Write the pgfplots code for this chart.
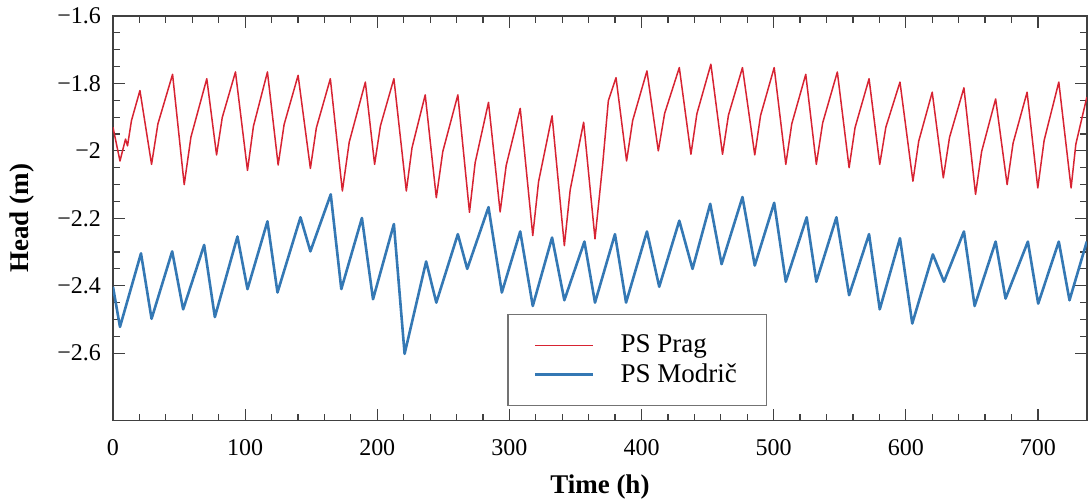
\documentclass[border=0pt]{standalone}
\usepackage{fontspec}
\setmainfont{Liberation Serif}
\usepackage{pgfplots}
\pgfplotsset{compat=1.18}
\definecolor{prag}{RGB}{215,35,50}
\definecolor{modric}{RGB}{52,120,180}

\begin{document}
\begin{tikzpicture}
\begin{axis}[
  name=ax,
  scale only axis, width=487pt, height=202.35pt,
  xmin=0, xmax=737, ymin=-2.8, ymax=-1.6,
  xtick={0,100,...,700},
  ytick={-2.6,-2.4,-2.2,-2,-1.8,-1.6},
  yticklabels={\textminus2.6,\textminus2.4,\textminus2.2,\textminus2,\textminus1.8,\textminus1.6},
  minor x tick num=4, minor y tick num=3,
  tick align=inside,
  major tick length=6pt, minor tick length=3.5pt,
  axis line style={black!75, line width=0.8pt},
  every tick/.style={black!75, line width=0.6pt},
  tick label style={font=\fontsize{12}{14}\selectfont},
  xticklabel style={yshift=-6pt},
  yticklabel style={xshift=-2.5pt},
  /pgf/number format/assume math mode=true,
  xlabel={\textbf{Time (h)}}, ylabel={\textbf{Head (m)}},
  every axis x label/.style={at={(axis description cs:0.5,-0.165)}, anchor=center,
    font=\fontsize{13.5}{16}\selectfont},
  every axis y label/.style={at={(axis description cs:-0.0934,0.5)}, rotate=90, anchor=center,
    font=\fontsize{13.5}{16}\selectfont},
  legend style={at={(axis description cs:0.405,0.036)}, anchor=south west,
    draw=black!55, line width=0.6pt, inner xsep=13pt, inner ysep=8pt,
    column sep=11pt, nodes={inner sep=2pt},
    font=\fontsize{13.5}{16}\selectfont},
  legend cell align=left,
  legend image code/.code={\draw[#1] (0pt,0pt) -- (29pt,0pt);},
]
% PS Prag
\addplot[prag, line width=0.75pt, line join=round] coordinates {
(0,-1.93) (5.3,-2.03) (9.5,-1.965) (11,-1.985) (14,-1.91) (20.4,-1.821)
(29.2,-2.04) (34.0,-1.92) (45.1,-1.773)
(53.9,-2.10) (59.0,-1.959) (71.0,-1.786)
(78.4,-2.012) (82.7,-1.901) (92.7,-1.766)
(101.8,-2.058) (106.3,-1.927) (116.9,-1.766)
(125.0,-2.042) (129.5,-1.922) (140.1,-1.776)
(149.4,-2.052) (153.9,-1.932) (164.5,-1.786)
(173.6,-2.119) (178.8,-1.974) (191.0,-1.796)
(198.0,-2.04) (202.4,-1.926) (212.6,-1.786)
(222.0,-2.119) (226.3,-1.991) (236.3,-1.834)
(244.7,-2.139) (249.6,-2.002) (261.0,-1.834)
(269.8,-2.182) (274.1,-2.035) (284.2,-1.856)
(293.0,-2.181) (297.6,-2.043) (308.2,-1.874)
(317.7,-2.251) (322.1,-2.091) (332.3,-1.896)
(341.6,-2.281) (346.0,-2.116) (356.2,-1.915)
(364.8,-2.261) (370.6,-2.04) (374.9,-1.851) (380.7,-1.783)
(388.7,-2.03) (393.3,-1.91) (404.1,-1.763)
(412.7,-2.0) (417.5,-1.889) (428.6,-1.753)
(437.4,-2.01) (441.9,-1.89) (452.5,-1.743)
(461.3,-2.01) (465.8,-1.894) (476.4,-1.753)
(485.7,-2.012) (490.1,-1.895) (500.4,-1.753)
(509.2,-2.04) (513.7,-1.92) (524.3,-1.773)
(532.3,-2.04) (537.1,-1.917) (548.2,-1.766)
(557.1,-2.05) (561.6,-1.931) (572.2,-1.786)
(580.3,-2.04) (584.9,-1.93) (595.6,-1.796)
(605.4,-2.09) (609.8,-1.971) (620.0,-1.826)
(628.4,-2.08) (633.1,-1.96) (644.0,-1.813)
(652.8,-2.129) (657.4,-2.002) (668.0,-1.846)
(676.7,-2.10) (681.2,-1.977) (691.8,-1.826)
(699.9,-2.11) (704.7,-1.969) (715.8,-1.796)
(725.1,-2.11) (728.7,-1.98) (737,-1.841)
};
\addlegendentry{PS Prag}
% PS Modric
\addplot[modric, line width=1.3pt, line join=round] coordinates {
(0,-2.403) (5.3,-2.522) (21.2,-2.304) (29.2,-2.498) (44.8,-2.298) (53.1,-2.47)
(69,-2.279) (77.1,-2.493) (94.2,-2.254) (101.8,-2.41) (116.9,-2.209) (124.5,-2.42)
(141.9,-2.197) (149.4,-2.298) (164.8,-2.129) (172.8,-2.41) (188.4,-2.199) (196.8,-2.44)
(212.6,-2.217) (220.7,-2.602) (237,-2.328) (244.7,-2.45) (261,-2.247) (268.1,-2.35)
(284.2,-2.167) (294.3,-2.42) (308.2,-2.239) (317.7,-2.46) (332.3,-2.257) (341.6,-2.443)
(356.8,-2.269) (364.8,-2.45) (379.9,-2.247) (388.3,-2.45) (404.1,-2.239) (413.4,-2.403)
(428.6,-2.207) (438.6,-2.35) (452,-2.157) (460.6,-2.336) (476.4,-2.137) (485.7,-2.34)
(500.4,-2.154) (509.2,-2.388) (525,-2.197) (532.3,-2.388) (547.5,-2.197) (557.1,-2.428)
(572.2,-2.247) (580.3,-2.47) (595.6,-2.259) (604.9,-2.512) (620.5,-2.307) (628.9,-2.388)
(644,-2.239) (652.1,-2.46) (668,-2.269) (675.5,-2.438) (692.4,-2.269) (700.2,-2.453)
(715.8,-2.269) (723.9,-2.443) (737,-2.269)
};
\addlegendentry{PS Modrič}
\end{axis}
\pgfresetboundingbox
\path[use as bounding box] ([xshift=-56.5pt,yshift=-41.65pt]ax.south west) rectangle ([xshift=0.6pt,yshift=8pt]ax.north east);
\end{tikzpicture}
\end{document}
